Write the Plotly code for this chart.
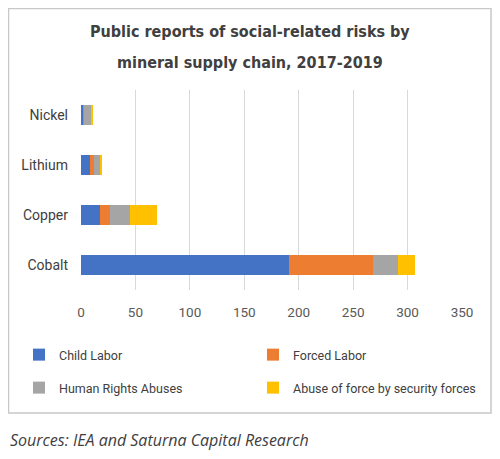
import plotly.graph_objects as go

minerals = ["Cobalt", "Copper", "Lithium", "Nickel"]
child_labor = [191, 17, 8, 2]
forced_labor = [77, 10, 4, 1]
human_rights = [23, 18, 5, 6]
abuse_of_force = [16, 25, 2, 2]
x_ticks = [0, 50, 100, 150, 200, 250, 300, 350]
title_lines = ["Public reports of social-related risks by",
               "mineral supply chain, 2017-2019"]

# page has an 8px body margin, so the figure is drawn 8px in from the corner
# pixel -> paper helpers, in page pixels (plot area 81..462 x 90..290)
def px(x):
    return (x - 81) / 381

def py(y):
    return (290 - y) / 200

series = [
    ("Child Labor", child_labor, "#4472C4", "legend", 19, 355),
    ("Forced Labor", forced_labor, "#ED7D31", "legend2", 253, 355),
    ("Human Rights Abuses", human_rights, "#A5A5A5", "legend3", 19, 388),
    ("Abuse of force by security forces", abuse_of_force, "#FFC000", "legend4", 253, 388),
]

fig = go.Figure()
legends = {}
for name, vals, color, leg, lx, ly in series:
    fig.add_trace(go.Bar(
        y=minerals, x=vals, name=name, orientation="h",
        marker=dict(color=color, line=dict(width=0)),
        legend=leg, showlegend=True,
    ))
    legends[leg] = dict(
        x=px(lx), y=py(ly), orientation="h", xanchor="left", yanchor="middle",
        font=dict(family="Roboto", size=12.5, color="#404040"),
        bgcolor="rgba(0,0,0,0)", visible=True,
    )

title_font = "DejaVu Sans Condensed, Roboto, sans-serif"
annots = []
for line, ypix in zip(title_lines, [31, 62]):
    annots.append(dict(
        text="<b>" + line + "</b>", xref="paper", yref="paper",
        x=px(250), y=py(ypix), xanchor="center", yanchor="middle",
        showarrow=False, font=dict(family=title_font, size=16, color="#404040"),
    ))
annots.append(dict(
    text="<i>Sources: IEA and Saturna Capital Research</i>",
    xref="paper", yref="paper", x=px(8), y=py(440),
    xanchor="left", yanchor="middle", showarrow=False,
    font=dict(family="Open Sans, sans-serif", size=16, color="#404040"),
))

fig.update_layout(
    width=484, height=443, showlegend=True,
    margin=dict(l=73, r=30, t=82, b=161, autoexpand=False),
    paper_bgcolor="white", plot_bgcolor="white",
    barmode="stack", bargap=0.6,
    xaxis=dict(
        range=[0, 350], tickvals=x_ticks, showgrid=True,
        gridcolor="#D9D9D9", gridwidth=1, zeroline=False,
        showline=False, ticklabelstandoff=12,
        tickfont=dict(family="Roboto", size=13.5, color="#595959"),
    ),
    yaxis=dict(
        showgrid=False, showline=False, ticklabelstandoff=12,
        tickfont=dict(family="Roboto", size=14, color="#404040"),
    ),
    shapes=[dict(
        type="rect", xref="paper", yref="paper",
        x0=px(8.5), x1=px(491), y0=py(413), y1=py(8.5),
        line=dict(color="#C8C8C8", width=1.5), layer="below",
    )],
    annotations=annots,
    **legends,
)

fig.write_html("out.html")
